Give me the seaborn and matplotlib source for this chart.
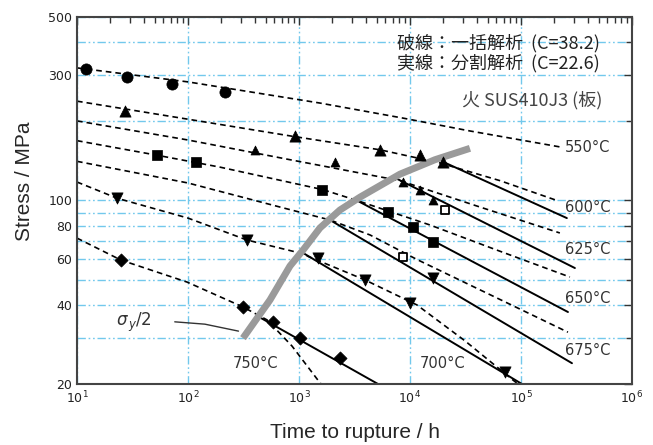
import matplotlib
matplotlib.use("Agg")
import matplotlib.pyplot as plt
import seaborn as sns
from matplotlib.ticker import FixedLocator, NullFormatter, LogLocator

# ---------------- data ----------------
# Dashed curves: one-shot (C=38.2) fit; solid lines: split-region (C=22.6) fit
fit550_t = [10, 100, 1550, 8650, 34700, 224000]
fit550_s = [320, 283, 235, 206, 184, 160]
pts550_t = [12, 28, 72, 215]
pts550_s = [317, 295, 278, 259]

fit600_t = [10, 100, 920, 5370, 18600, 64700, 211000]
fit600_s = [239, 204, 175, 156, 139, 119, 100]
seg600_t = [19400, 259000]
seg600_s = [141, 85.7]
pts600_t = [27, 920, 5370, 12300, 19800]
pts600_s = [219, 176, 156, 149, 140]

fit625_t = [10, 100, 830, 8130, 42800, 224000]
fit625_s = [201, 170, 143, 119, 94.4, 75.2]
seg625_t = [7330, 306000]
seg625_s = [122, 55.3]
pts625_t = [402, 2110, 8650, 12300, 16100]
pts625_s = [156, 140, 117.6, 110, 100.4]

fit650_t = [10, 51.5, 194, 1640, 3330, 15100, 60800, 276000]
fit650_s = [169, 149, 134, 110, 100, 80.7, 64.7, 51.1]
seg650_t = [3330, 265000]
seg650_s = [100, 37.6]
pts650_t = [52.6, 118, 1610, 6340, 10650, 16100]
pts650_s = [149, 140, 110, 90.4, 79.2, 69.5]

fit675_t = [10, 100, 675, 1900, 4370, 11560, 265000]
fit675_s = [141, 116.6, 94.4, 84.3, 73.9, 59.6, 31.5]
seg675_t = [1900, 288000]
seg675_s = [84.3, 24]
pts675_t = [16100]
pts675_s = [50.7]

fit700_t = [10, 23, 100, 340, 1020, 3940, 11560, 31300, 84700, 94000]
fit700_s = [117.6, 102, 85.7, 70.7, 63.1, 49.8, 40, 29.2, 20.7, 20]
seg700_t = [1090, 102000]
seg700_s = [63.1, 20]
pts700_t = [23, 340, 1480, 3940, 10000, 71800]
pts700_s = [102, 70.7, 60.4, 49.8, 40.6, 22.2]

fit750_t = [10, 24.9, 98, 313, 515, 865, 1480, 1580]
fit750_s = [71.9, 59.3, 48.9, 39.3, 35.1, 27.9, 20.7, 20]
seg750_t = [427, 5150]
seg750_s = [36.2, 20]
pts750_t = [24.9, 313, 583, 1020, 2340]
pts750_s = [59.3, 39.3, 34.5, 29.9, 25.1]

# open-square specimens
open_t = [20700, 8650]
open_s = [92, 61]

# half of 0.2% proof stress curve
half_ys_t = [313, 548, 830, 1087, 1545, 2340, 3550, 8130, 16800, 34700]
half_ys_s = [29.9, 41.8, 56.3, 64.7, 78.6, 92, 103, 126, 143, 158]

y_ticks = [20, 40, 60, 80, 100, 300, 500]
y_minor = [30, 50, 70, 90, 200, 400]

# ---------------- figure ----------------
sns.set_style("white")
plt.rcParams["font.family"] = ["DejaVu Sans"]

fig = plt.figure(figsize=(6.53, 4.45), dpi=100)
ax = fig.add_axes([0.1179, 0.1371, 0.8499, 0.8247])
ax.set_xscale("log")
ax.set_yscale("log")

dash = (0, (3.4, 2.4))
line_kw = dict(color="black", sort=False, estimator=None, legend=False, ax=ax)

fits = [(fit550_t, fit550_s), (fit600_t, fit600_s), (fit625_t, fit625_s),
        (fit650_t, fit650_s), (fit675_t, fit675_s), (fit700_t, fit700_s),
        (fit750_t, fit750_s)]
for t, s in fits:
    sns.lineplot(x=t, y=s, linewidth=1.2, linestyle=dash, zorder=2, **line_kw)

segs = [(seg600_t, seg600_s), (seg625_t, seg625_s), (seg650_t, seg650_s),
        (seg675_t, seg675_s), (seg700_t, seg700_s), (seg750_t, seg750_s)]
for t, s in segs:
    sns.lineplot(x=t, y=s, linewidth=1.4, linestyle="-", zorder=2, **line_kw)

sns.lineplot(x=half_ys_t, y=half_ys_s, color="#9a9a9a", linewidth=5,
             sort=False, estimator=None, legend=False, ax=ax, zorder=3,
             solid_capstyle="butt", solid_joinstyle="round")

pt_kw = dict(color="black", edgecolor="black", linewidth=0.5, legend=False,
             ax=ax, zorder=4)
sns.scatterplot(x=pts550_t, y=pts550_s, marker="o", s=65, **pt_kw)
sns.scatterplot(x=pts600_t, y=pts600_s, marker="^", s=65, **pt_kw)
sns.scatterplot(x=pts625_t, y=pts625_s, marker="^", s=42, **pt_kw)
sns.scatterplot(x=pts650_t, y=pts650_s, marker="s", s=55, **pt_kw)
sns.scatterplot(x=pts675_t, y=pts675_s, marker="v", s=65, **pt_kw)
sns.scatterplot(x=pts700_t, y=pts700_s, marker="v", s=65, **pt_kw)
sns.scatterplot(x=pts750_t, y=pts750_s, marker="D", s=45, **pt_kw)
sns.scatterplot(x=open_t, y=open_s, marker="s", s=40, color="white",
                edgecolor="black", linewidth=1.3, legend=False, ax=ax, zorder=4)

# axes limits, ticks, grid
ax.set_xlim(10, 1e6)
ax.set_ylim(20, 500)
ax.xaxis.set_major_locator(LogLocator(base=10, numticks=10))
ax.xaxis.set_minor_locator(LogLocator(base=10, subs=range(2, 10), numticks=20))
ax.xaxis.set_minor_formatter(NullFormatter())
ax.yaxis.set_major_locator(FixedLocator(y_ticks))
ax.yaxis.set_minor_locator(FixedLocator(y_minor))
ax.yaxis.set_major_formatter(plt.FixedFormatter([str(v) for v in y_ticks]))
ax.yaxis.set_minor_formatter(NullFormatter())

ax.tick_params(which="both", direction="in", top=True, right=True,
               color="#333333", width=1.0, labelsize=9, labelcolor="#222222")
ax.tick_params(which="major", length=6)
ax.tick_params(which="minor", length=4)
ax.tick_params(axis="x", pad=4)

grid_kw = dict(color="#72c8ec", linewidth=1.0, linestyle=(0, (6, 2, 1.2, 2, 1.2, 2)))
ax.grid(True, which="major", axis="x", **grid_kw)
ax.grid(True, which="both", axis="y", **grid_kw)
ax.set_axisbelow(True)

for sp in ax.spines.values():
    sp.set_color("#444444")
    sp.set_linewidth(1.5)

# temperature labels
tkw = dict(fontsize=10.5, color="#333333", va="center", ha="left")
ax.text(2.49e5, 158.6, "550°C", **tkw)
ax.text(2.49e5, 94.4, "600°C", **tkw)
ax.text(2.49e5, 64.8, "625°C", **tkw)
ax.text(2.49e5, 42.5, "650°C", **tkw)
ax.text(2.49e5, 26.9, "675°C", **tkw)
ax.text(1.23e4, 24.0, "700°C", **tkw)
ax.text(2.54e2, 24.0, "750°C", **tkw)

# sigma_y / 2 label with leader line
ax.text(22.5, 34.2, r"$\sigma_{\,y}$/2", fontsize=12, color="#333333",
        va="center", ha="left")
ax.plot([76, 142, 285], [34.5, 33.8, 31.8], color="#333333", linewidth=1.0,
        zorder=3)

# method legend text and material
cjk = ["Noto Sans CJK JP", "DejaVu Sans"]
ax.text(0.942, 0.929, "破線：一括解析  (C=38.2)", transform=ax.transAxes,
        fontsize=13, family=cjk, ha="right", va="center", color="#222222")
ax.text(0.942, 0.875, "実線：分割解析  (C=22.6)", transform=ax.transAxes,
        fontsize=13, family=cjk, ha="right", va="center", color="#222222")
ax.text(0.946, 0.774, "火 SUS410J3 (板)", transform=ax.transAxes,
        fontsize=13, family=cjk, ha="right", va="center", color="#444444")

# axis titles
fig.text(354.5 / 653, 1 - 432 / 445, "Time to rupture / h", fontsize=15,
         family=["Liberation Sans", "DejaVu Sans"], ha="center", va="center")
fig.text(24 / 653, 1 - 181 / 445, "Stress / MPa", fontsize=15, rotation=90,
         family=["Liberation Sans", "DejaVu Sans"], ha="center", va="center")

fig.savefig("out.png", dpi=100)
